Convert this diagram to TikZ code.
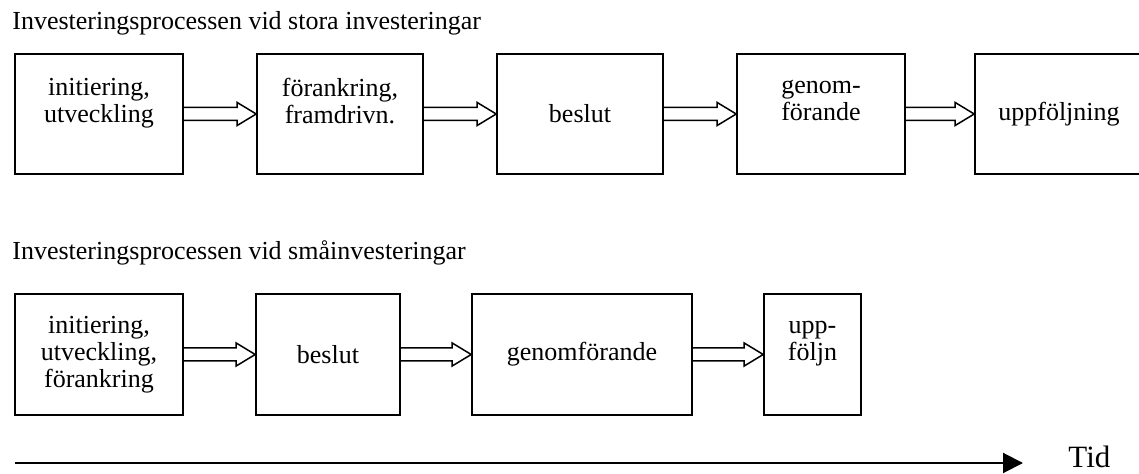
\documentclass[tikz,border=0pt]{standalone}
\usepackage{fontspec}
\setmainfont{Liberation Serif}
\usepackage{tikz}
\usetikzlibrary{calc,arrows.meta}

\tikzset{
	fas/.style={draw, line width=0.8pt, align=center, inner sep=2pt, font=\fontsize{13}{13.5}\selectfont},
	rubrik/.style={anchor=base west, inner sep=0pt, font=\fontsize{13}{13.5}\selectfont}
}
\newcommand{\blockpil}[2]{%
	\draw[line width=0.75pt, line join=miter] ($(#1.east)+(0,3.25pt)$) -- ($(#2.west)+(-9.5pt,3.25pt)$) -- ($(#2.west)+(-9.5pt,5.75pt)$) -- (#2.west) -- ($(#2.west)+(-9.5pt,-5.75pt)$) -- ($(#2.west)+(-9.5pt,-3.25pt)$) -- ($(#1.east)+(0,-3.25pt)$);%
}

\begin{document}
\begin{tikzpicture}[x=0.5pt, y=-0.5pt]
	\useasboundingbox (0,0) rectangle (1139,474);

	%Large investments
	\node[rubrik] (t0) at (12,30) {Investeringsprocessen vid stora investeringar};
	\node[fas, minimum width=84pt, minimum height=60pt] (0) at (99,114) {initiering,\\utveckling\\\mbox{}};
	\node[fas, minimum width=83pt, minimum height=60pt] (1) at (340,114) {förankring,\\framdrivn.\\\mbox{}};
	\node[fas, minimum width=83pt, minimum height=60pt] (2) at (580,114) {beslut};
	\node[fas, minimum width=84pt, minimum height=60pt] (3) at (821,114) {genom-\\förande\\\mbox{}};
	\node[fas, minimum width=84pt, minimum height=60pt] (4) at (1059,114) {uppföljning};
	\blockpil{0}{1}
	\blockpil{1}{2}
	\blockpil{2}{3}
	\blockpil{3}{4}

	%Small investments
	\node[rubrik] (t1) at (12,260) {Investeringsprocessen vid småinvesteringar};
	\node[fas, minimum width=84pt, minimum height=60.5pt] (10) at (99,354.5) {initiering,\\utveckling,\\förankring};
	\node[fas, minimum width=72pt, minimum height=60.5pt] (11) at (328,354.5) {beslut};
	\node[fas, minimum width=110pt, minimum height=60.5pt] (12) at (582,354.5) {genomförande};
	\node[fas, minimum width=48.5pt, minimum height=60.5pt] (13) at (812.5,354.5) {upp-\\följn\\\mbox{}};
	\blockpil{10}{11}
	\blockpil{11}{12}
	\blockpil{12}{13}

	%Time
	\coordinate (start) at (15,463);
	\node[anchor=base west, inner sep=0pt, font=\fontsize{15.5}{16}\selectfont] (tid) at (1068,468) {Tid};
	\coordinate (slut) at (1023,463);
	\draw[line width=1pt, -{Triangle[length=10pt, width=10pt]}] (start) -- (slut);
\end{tikzpicture}
\end{document}
